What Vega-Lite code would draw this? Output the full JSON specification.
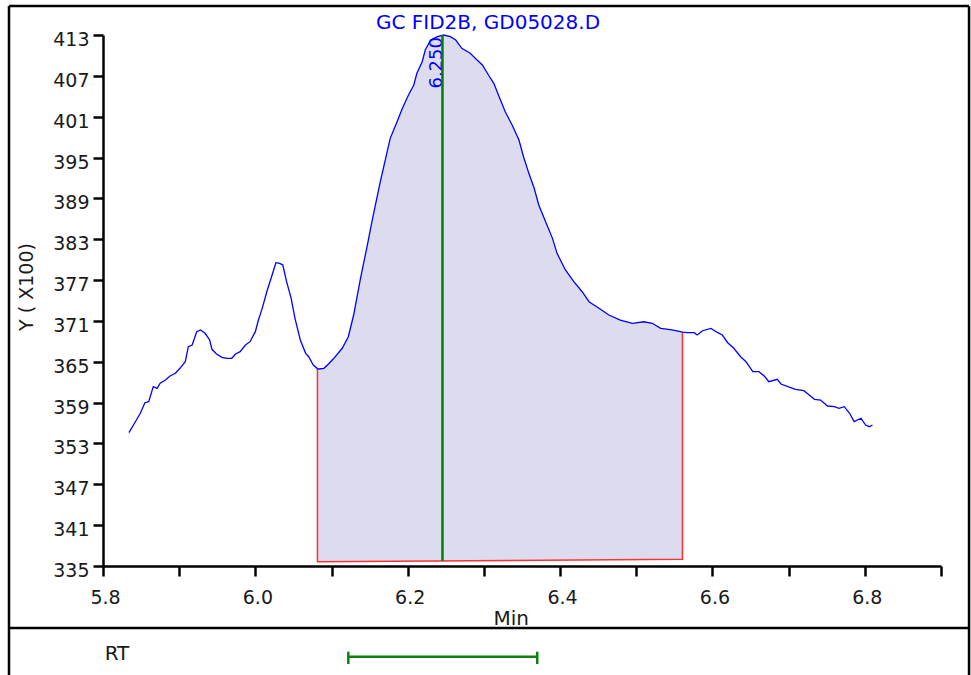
{
  "$schema": "https://vega.github.io/schema/vega-lite/v6.json",
  "width": 838,
  "height": 531,
  "autosize": {"type": "none"},
  "padding": {"left": 103, "top": 35, "right": 30, "bottom": 109},
  "background": "white",
  "config": {"view": {"stroke": null}, "font": "DejaVu Sans"},
  "datasets": {
    "signal": [
      {"t":5.834,"y":354.58},{"t":5.840,"y":355.71},{"t":5.849,"y":357.43},{"t":5.855,"y":358.99},{"t":5.860,"y":359.13},
      {"t":5.866,"y":361.34},{"t":5.871,"y":361.10},{"t":5.875,"y":361.84},{"t":5.882,"y":362.32},{"t":5.888,"y":362.91},
      {"t":5.895,"y":363.31},{"t":5.901,"y":364.04},{"t":5.908,"y":365.01},{"t":5.912,"y":367.21},{"t":5.917,"y":367.46},
      {"t":5.923,"y":369.42},{"t":5.928,"y":369.67},{"t":5.934,"y":369.18},{"t":5.940,"y":368.20},{"t":5.943,"y":366.83},
      {"t":5.949,"y":366.14},{"t":5.956,"y":365.66},{"t":5.963,"y":365.50},{"t":5.969,"y":365.51},{"t":5.974,"y":366.14},
      {"t":5.980,"y":366.48},{"t":5.987,"y":367.46},{"t":5.993,"y":367.95},{"t":6.000,"y":369.42},{"t":6.004,"y":371.13},
      {"t":6.009,"y":372.85},{"t":6.015,"y":375.29},{"t":6.022,"y":377.74},{"t":6.027,"y":379.55},{"t":6.032,"y":379.46},
      {"t":6.036,"y":379.21},{"t":6.041,"y":376.76},{"t":6.047,"y":374.32},{"t":6.052,"y":371.38},{"t":6.059,"y":368.20},
      {"t":6.066,"y":366.24},{"t":6.070,"y":365.74},{"t":6.076,"y":364.52},
      {"t":6.0815,"y":364.0,"base":335.63},
      {"t":6.083,"y":363.94,"base":335.63},{"t":6.090,"y":364.04,"base":335.64},{"t":6.096,"y":364.67,"base":335.64},
      {"t":6.103,"y":365.51,"base":335.65},{"t":6.114,"y":366.98,"base":335.65},{"t":6.122,"y":368.68,"base":335.66},
      {"t":6.129,"y":371.87,"base":335.66},{"t":6.138,"y":377.26,"base":335.67},{"t":6.147,"y":382.15,"base":335.68},
      {"t":6.153,"y":385.57,"base":335.68},{"t":6.164,"y":391.45,"base":335.69},{"t":6.171,"y":394.89,"base":335.70},
      {"t":6.177,"y":397.82,"base":335.70},{"t":6.186,"y":400.26,"base":335.71},{"t":6.193,"y":402.23,"base":335.71},
      {"t":6.201,"y":404.18,"base":335.72},{"t":6.208,"y":405.65,"base":335.72},{"t":6.212,"y":407.37,"base":335.73},
      {"t":6.219,"y":409.08,"base":335.73},{"t":6.223,"y":410.79,"base":335.73},{"t":6.230,"y":412.26,"base":335.74},
      {"t":6.239,"y":412.75,"base":335.74},{"t":6.247,"y":413.0,"base":335.75},{"t":6.256,"y":412.75,"base":335.76},
      {"t":6.263,"y":412.26,"base":335.76},{"t":6.271,"y":411.04,"base":335.77},{"t":6.282,"y":410.31,"base":335.78},
      {"t":6.291,"y":409.32,"base":335.78},{"t":6.298,"y":408.59,"base":335.79},{"t":6.306,"y":407.12,"base":335.79},
      {"t":6.313,"y":405.90,"base":335.80},{"t":6.320,"y":403.93,"base":335.80},{"t":6.328,"y":401.73,"base":335.81},
      {"t":6.337,"y":399.78,"base":335.82},{"t":6.346,"y":397.57,"base":335.82},{"t":6.352,"y":395.12,"base":335.83},
      {"t":6.359,"y":392.68,"base":335.83},{"t":6.366,"y":390.48,"base":335.84},{"t":6.372,"y":388.03,"base":335.84},
      {"t":6.381,"y":385.57,"base":335.85},{"t":6.390,"y":383.13,"base":335.86},{"t":6.396,"y":380.93,"base":335.86},
      {"t":6.407,"y":378.48,"base":335.87},{"t":6.418,"y":376.76,"base":335.88},{"t":6.429,"y":375.29,"base":335.88},
      {"t":6.438,"y":373.82,"base":335.89},{"t":6.451,"y":372.85,"base":335.90},{"t":6.464,"y":371.87,"base":335.91},
      {"t":6.479,"y":371.13,"base":335.92},{"t":6.495,"y":370.65,"base":335.93},{"t":6.510,"y":370.88,"base":335.94},
      {"t":6.521,"y":370.65,"base":335.95},{"t":6.532,"y":369.91,"base":335.96},{"t":6.547,"y":369.67,"base":335.97},
      {"t":6.558,"y":369.42,"base":335.97},{"t":6.5606,"y":369.35,"base":335.98},
      {"t":6.567,"y":369.27},{"t":6.576,"y":369.27},{"t":6.580,"y":368.93},{"t":6.587,"y":369.56},{"t":6.598,"y":369.91},
      {"t":6.607,"y":369.27},{"t":6.613,"y":368.93},{"t":6.620,"y":367.80},{"t":6.628,"y":366.98},{"t":6.637,"y":365.74},
      {"t":6.644,"y":365.01},{"t":6.653,"y":363.54},{"t":6.661,"y":363.54},{"t":6.668,"y":362.91},{"t":6.674,"y":362.07},
      {"t":6.685,"y":362.42},{"t":6.690,"y":361.73},{"t":6.699,"y":361.34},{"t":6.709,"y":360.95},{"t":6.720,"y":360.75},
      {"t":6.727,"y":360.12},{"t":6.734,"y":359.49},{"t":6.742,"y":359.38},{"t":6.751,"y":358.50},{"t":6.760,"y":358.40},
      {"t":6.766,"y":358.16},{"t":6.773,"y":358.40},{"t":6.780,"y":357.43},{"t":6.786,"y":356.20},{"t":6.795,"y":356.70},
      {"t":6.801,"y":355.71},{"t":6.806,"y":355.46},{"t":6.810,"y":355.71}
    ],
    "outline": [
      {"t":6.0815,"y":364.0,"k":1},{"t":6.0815,"y":335.63,"k":2},{"t":6.5606,"y":335.98,"k":3},{"t":6.5606,"y":369.35,"k":4}
    ],
    "peak": [{"rt":6.2456,"top":413.0,"base":335.75,"label":"6.250"}],
    "window": [{"lo":6.122,"hi":6.370}]
  },
  "layer": [
    {
      "data": {"name": "signal"},
      "transform": [{"filter": "isValid(datum.base)"}],
      "mark": {"type": "area", "color": "#dcdcee"},
      "encoding": {
        "x": {"field": "t", "type": "quantitative", "title": "Min",
          "scale": {"domain": [5.8, 6.9], "nice": false, "zero": false},
          "axis": {"values": [5.8,5.9,6.0,6.1,6.2,6.3,6.4,6.5,6.6,6.7,6.8,6.9],
            "labelExpr": "abs(round(datum.value*10) % 2) < 0.5 ? format(datum.value, '.1f') : ''",
            "grid": false, "domainColor": "#000", "domainWidth": 2.5,
            "tickColor": "#000", "tickWidth": 2.5, "tickSize": 10,
            "labelFont": "DejaVu Sans", "labelFontSize": 19, "labelColor": "#1a1a1a",
            "labelPadding": 12, "labelOffset": 2, "labelOverlap": false, "labelFlush": false,
            "titleFont": "DejaVu Sans", "titleFontSize": 20, "titleFontWeight": "normal", "titleColor": "#1a1a1a",
            "titleX": 407.7, "titleY": 58, "titleAlign": "center", "titleBaseline": "alphabetic"}},
        "y": {"field": "y", "type": "quantitative", "title": "Y ( X100)",
          "scale": {"domain": [335, 413], "nice": false, "zero": false},
          "axis": {"values": [335,341,347,353,359,365,371,377,383,389,395,401,407,413],
            "grid": false, "domainColor": "#000", "domainWidth": 2.5,
            "tickColor": "#000", "tickWidth": 2.5, "tickSize": 10,
            "labelFont": "DejaVu Sans", "labelFontSize": 19, "labelColor": "#1a1a1a",
            "labelPadding": 4, "labelOffset": 4.5, "labelOverlap": false, "labelFlush": false,
            "titleFont": "DejaVu Sans", "titleFontSize": 19, "titleFontWeight": "normal", "titleColor": "#1a1a1a",
            "titleX": -71, "titleY": 251.5, "titleAngle": 270, "titleAlign": "center", "titleBaseline": "alphabetic"}},
        "y2": {"field": "base"}
      }
    },
    {
      "data": {"name": "outline"},
      "mark": {"type": "line", "color": "#ff3030", "strokeWidth": 1.5},
      "encoding": {
        "x": {"field": "t", "type": "quantitative", "title": "Min"},
        "y": {"field": "y", "type": "quantitative", "title": "Y ( X100)"},
        "order": {"field": "k"}
      }
    },
    {
      "data": {"name": "signal"},
      "mark": {"type": "line", "color": "#0000ff", "strokeWidth": 1.3},
      "encoding": {
        "x": {"field": "t", "type": "quantitative", "title": "Min"},
        "y": {"field": "y", "type": "quantitative", "title": "Y ( X100)"}
      }
    },
    {
      "data": {"name": "peak"},
      "mark": {"type": "text", "angle": 270, "align": "right", "baseline": "alphabetic", "fontSize": 18, "color": "#0000ff", "font": "DejaVu Sans"},
      "encoding": {
        "x": {"field": "rt", "type": "quantitative", "title": "Min"},
        "y": {"datum": 412.7, "type": "quantitative", "title": "Y ( X100)"},
        "text": {"field": "label"}
      }
    },
    {
      "data": {"name": "peak"},
      "mark": {"type": "rule", "color": "#008000", "strokeWidth": 2.5},
      "encoding": {
        "x": {"field": "rt", "type": "quantitative", "title": "Min"},
        "y": {"field": "top", "type": "quantitative", "title": "Y ( X100)"},
        "y2": {"field": "base"}
      }
    },
    {
      "data": {"values": [{}]},
      "mark": {"type": "text", "text": "GC FID2B, GD05028.D", "align": "center", "baseline": "alphabetic", "fontSize": 20, "color": "#0000ff", "font": "DejaVu Sans"},
      "encoding": {
        "x": {"datum": 6.3054, "type": "quantitative", "title": "Min"},
        "y": {"datum": 413.83, "type": "quantitative", "title": "Y ( X100)"}
      }
    },
    {
      "data": {"values": [{}]},
      "mark": {"type": "rule", "color": "#000", "strokeWidth": 2.5},
      "encoding": {
        "x": {"datum": 5.6766, "type": "quantitative", "title": "Min"},
        "x2": {"datum": 6.9368},
        "y": {"datum": 417.26, "type": "quantitative", "title": "Y ( X100)"}
      }
    },
    {
      "data": {"values": [{}]},
      "mark": {"type": "rule", "color": "#000", "strokeWidth": 2.5},
      "encoding": {
        "x": {"datum": 5.6766, "type": "quantitative", "title": "Min"},
        "x2": {"datum": 6.9368},
        "y": {"datum": 325.89, "type": "quantitative", "title": "Y ( X100)"}
      }
    },
    {
      "data": {"values": [{}]},
      "mark": {"type": "rule", "color": "#000", "strokeWidth": 2.5},
      "encoding": {
        "x": {"datum": 5.6766, "type": "quantitative", "title": "Min"},
        "y": {"datum": 417.26, "type": "quantitative", "title": "Y ( X100)"},
        "y2": {"datum": 318.7}
      }
    },
    {
      "data": {"values": [{}]},
      "mark": {"type": "rule", "color": "#000", "strokeWidth": 2.5},
      "encoding": {
        "x": {"datum": 6.9368, "type": "quantitative", "title": "Min"},
        "y": {"datum": 417.26, "type": "quantitative", "title": "Y ( X100)"},
        "y2": {"datum": 318.7}
      }
    },
    {
      "data": {"values": [{}]},
      "mark": {"type": "text", "text": "RT", "align": "left", "baseline": "alphabetic", "fontSize": 20, "color": "#1a1a1a", "font": "DejaVu Sans"},
      "encoding": {
        "x": {"datum": 5.8022, "type": "quantitative", "title": "Min"},
        "y": {"datum": 321.19, "type": "quantitative", "title": "Y ( X100)"}
      }
    },
    {
      "data": {"name": "window"},
      "mark": {"type": "rule", "color": "#108010", "strokeWidth": 2.5},
      "encoding": {
        "x": {"field": "lo", "type": "quantitative", "title": "Min"},
        "x2": {"field": "hi"},
        "y": {"datum": 321.68, "type": "quantitative", "title": "Y ( X100)"}
      }
    },
    {
      "data": {"name": "window"},
      "mark": {"type": "rule", "color": "#108010", "strokeWidth": 2.5},
      "encoding": {
        "x": {"field": "lo", "type": "quantitative", "title": "Min"},
        "y": {"datum": 322.41, "type": "quantitative", "title": "Y ( X100)"},
        "y2": {"datum": 320.6}
      }
    },
    {
      "data": {"name": "window"},
      "mark": {"type": "rule", "color": "#108010", "strokeWidth": 2.5},
      "encoding": {
        "x": {"field": "hi", "type": "quantitative", "title": "Min"},
        "y": {"datum": 322.41, "type": "quantitative", "title": "Y ( X100)"},
        "y2": {"datum": 320.6}
      }
    }
  ]
}
